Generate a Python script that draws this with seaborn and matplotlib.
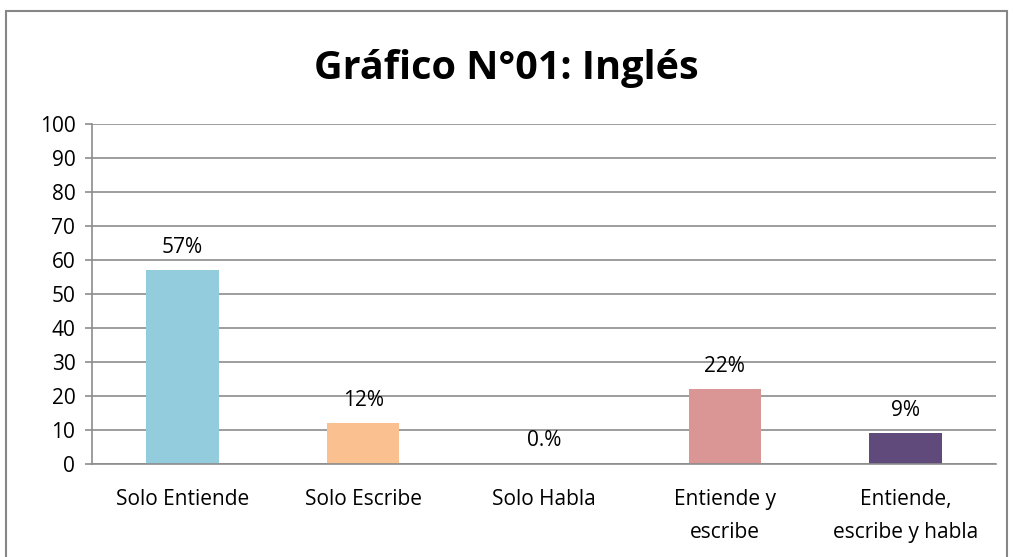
import matplotlib
matplotlib.use("Agg")
import matplotlib.pyplot as plt
import seaborn as sns
import pandas as pd
from matplotlib.patches import Rectangle

categorias = ["Solo Entiende", "Solo Escribe", "Solo Habla",
              "Entiende y\nescribe", "Entiende,\nescribe y habla"]
valores = [57, 12, 0, 22, 9]
etiquetas = ["57%", "12%", "0.%", "22%", "9%"]
colores = ["#93CDDD", "#FAC090", "#C3D69B", "#D99694", "#604A7B"]

sns.set_theme(style="white")
plt.rcParams['font.family'] = ['Open Sans', 'DejaVu Sans']
plt.rcParams['text.color'] = 'black'
plt.rcParams['xtick.color'] = 'black'
plt.rcParams['ytick.color'] = 'black'

df = pd.DataFrame({"cat": categorias, "val": valores})

fig = plt.figure(figsize=(10.13, 5.57), dpi=100)
ax = fig.add_axes([0.0908, 0.167, 0.8924, 0.610])

sns.barplot(data=df, x="cat", y="val", hue="cat", palette=colores,
            width=0.4, legend=False, ax=ax, saturation=1, linewidth=0)

for cont, lab in zip(ax.containers, etiquetas):
    ax.bar_label(cont, labels=[lab], padding=9, fontsize=15, color="black")

ax.set_ylim(0, 100)
ax.set_yticks(range(0, 101, 10))
ax.yaxis.grid(True, color="#8c8c8c", linewidth=1.2)
ax.set_axisbelow(True)
ax.set_xlabel("")
ax.set_ylabel("")
for s in ["top", "right"]:
    ax.spines[s].set_visible(False)
ax.spines["left"].set_color("#8c8c8c")
ax.spines["bottom"].set_color("#8c8c8c")
ax.spines["left"].set_linewidth(1.2)
ax.spines["bottom"].set_linewidth(1.2)
ax.tick_params(axis="y", length=5, color="#8c8c8c", width=1.2, left=True,
               labelsize=15, labelcolor="black", pad=7)
ax.tick_params(axis="x", length=0, labelsize=15, labelcolor="black", pad=18)
for t in ax.get_xticklabels():
    t.set_linespacing(1.75)

fig.text(0.5, 0.877, "Gráfico N°01: Inglés", ha="center", va="center",
         fontsize=28.5, fontweight="bold", color="black")

fig.patches.append(Rectangle((0.006, -0.02), 0.988, 1.0, transform=fig.transFigure,
                             fill=False, edgecolor="#868686", linewidth=1.5))

fig.savefig("out.png", dpi=100)
